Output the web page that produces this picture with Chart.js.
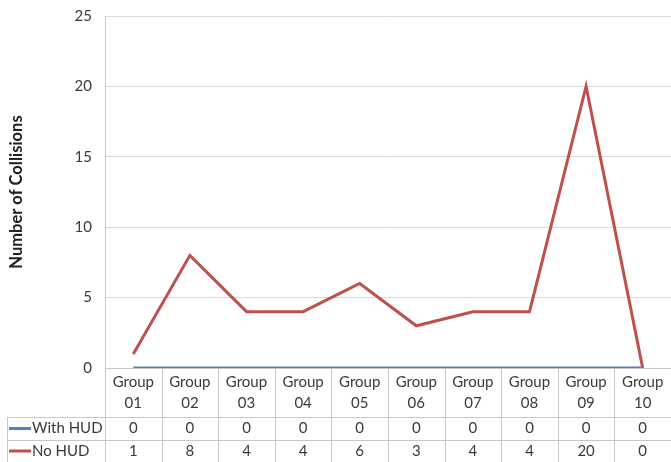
<!DOCTYPE html>
<html>
<head>
<meta charset="utf-8">
<script src="https://cdn.jsdelivr.net/npm/chart.js@4/dist/chart.umd.min.js"></script>
<style>
  html, body { margin: 0; padding: 0; background: #fff; }
  #wrap { width: 671px; height: 462px; position: relative; }
</style>
</head>
<body>
<div id="wrap"><canvas id="myChart"></canvas></div>
<script>
var groups = ["01", "02", "03", "04", "05", "06", "07", "08", "09", "10"];
var withHud = [0, 0, 0, 0, 0, 0, 0, 0, 0, 0];
var noHud = [1, 8, 4, 4, 6, 3, 4, 4, 20, 0];
var seriesNames = ["With HUD", "No HUD"];
var seriesColors = ["#4f81bd", "#c0504d"];
var yMax = 25;
var yStep = 5;

var textColor = "#3a3a3a";
var lineColor = "#c8c8c8";
var fontFamily = "Lato, 'Open Sans', sans-serif";

// data table under the x axis, like the excel one
var dataTable = {
  id: "dataTable",
  afterDraw: function (chart) {
    var ctx = chart.ctx;
    var x = chart.scales.x;
    var area = chart.chartArea;
    var colW = (area.right - area.left) / groups.length;
    var rowTops = [417, 440, 462];
    var tableLeft = 7;
    var rows = [withHud, noHud];

    ctx.save();
    ctx.strokeStyle = lineColor;
    ctx.lineWidth = 1;

    // horizontal lines
    rowTops.forEach(function (yy) {
      ctx.beginPath();
      ctx.moveTo(tableLeft, yy + 0.5);
      ctx.lineTo(area.right, yy + 0.5);
      ctx.stroke();
    });
    // left border of label column
    ctx.beginPath();
    ctx.moveTo(tableLeft + 0.5, rowTops[0]);
    ctx.lineTo(tableLeft + 0.5, rowTops[2]);
    ctx.stroke();
    // column separators, from axis down
    for (var i = 0; i <= groups.length; i++) {
      var cx = Math.round(area.left + colW * i) + 0.5;
      ctx.beginPath();
      ctx.moveTo(cx, area.bottom);
      ctx.lineTo(cx, rowTops[2]);
      ctx.stroke();
    }

    ctx.font = "15px " + fontFamily;
    ctx.textBaseline = "middle";
    for (var r = 0; r < rows.length; r++) {
      var cy = (rowTops[r] + rowTops[r + 1]) / 2;
      // legend key
      ctx.strokeStyle = seriesColors[r];
      ctx.lineWidth = 3;
      ctx.beginPath();
      ctx.moveTo(9, cy);
      ctx.lineTo(31, cy);
      ctx.stroke();
      ctx.fillStyle = textColor;
      ctx.textAlign = "left";
      ctx.fillText(seriesNames[r], 32, cy);
      ctx.textAlign = "center";
      for (var j = 0; j < groups.length; j++) {
        ctx.fillText(String(rows[r][j]), x.getPixelForValue(j), cy);
      }
    }
    ctx.restore();
  }
};

var ctx = document.getElementById("myChart");
var myLineChart = new Chart(ctx, {
  type: "line",
  data: {
    labels: groups.map(function (g) { return ["Group", g]; }),
    datasets: [
      {
        label: seriesNames[0],
        data: withHud,
        borderColor: seriesColors[0],
        backgroundColor: seriesColors[0],
        borderWidth: 3,
        pointRadius: 0,
        tension: 0
      },
      {
        label: seriesNames[1],
        data: noHud,
        borderColor: seriesColors[1],
        backgroundColor: seriesColors[1],
        borderWidth: 3,
        pointRadius: 0,
        tension: 0
      }
    ]
  },
  options: {
    responsive: true,
    maintainAspectRatio: false,
    animation: false,
    layout: { padding: { top: 16, right: 0, bottom: 0, left: 0 } },
    plugins: {
      legend: { display: false },
      tooltip: { enabled: false }
    },
    scales: {
      x: {
        offset: true,
        grid: { display: false, drawTicks: false },
        border: { display: true, color: lineColor },
        ticks: {
          color: textColor,
          font: { family: fontFamily, size: 15, lineHeight: 1.4 },
          padding: 4,
          maxRotation: 0,
          autoSkip: false
        },
        afterFit: function (scale) { scale.height = 94; }
      },
      y: {
        min: 0,
        max: yMax,
        // invisible tick marks keep the labels away from the axis
        grid: { color: "#d9d9d9", drawTicks: true, tickLength: 13, tickColor: "rgba(0,0,0,0)" },
        border: { display: true, color: lineColor },
        ticks: {
          stepSize: yStep,
          color: textColor,
          font: { family: fontFamily, size: 15 },
          padding: 0
        },
        title: {
          display: true,
          text: "Number of Collisions",
          color: "#222",
          font: { family: fontFamily, size: 16.5, weight: "bold", lineHeight: 1.2 },
          padding: { top: 7, bottom: 0 }
        },
        afterFit: function (scale) { scale.width = 105; }
      }
    }
  },
  plugins: [dataTable]
});
</script>
</body>
</html>
